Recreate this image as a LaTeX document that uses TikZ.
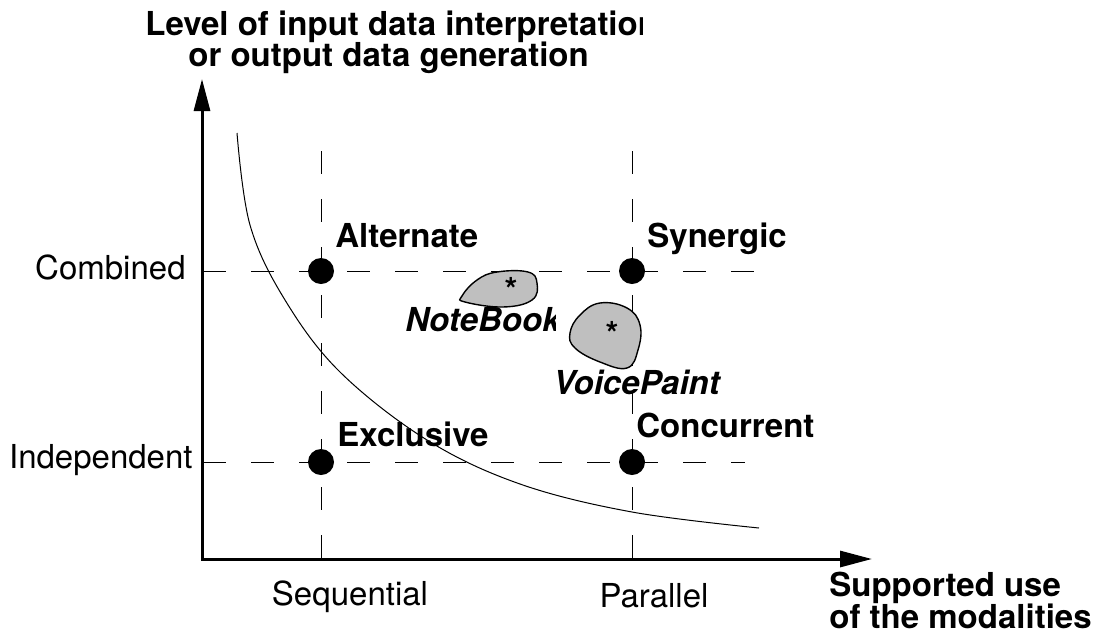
\documentclass[tikz,border=0pt]{standalone}
\usepackage{fontspec}
\setmainfont{TeX Gyre Heros}
\usetikzlibrary{arrows.meta}
\begin{document}
\begin{tikzpicture}[x=0.5pt, y=-0.5pt,
    every node/.style={inner sep=0pt, font=\fontsize{16.5}{15.5}\selectfont},
    axis/.style={line width=1.5pt, {Triangle[length=16pt,width=8pt]}-{Triangle[length=16pt,width=8pt]}},
    grid/.style={line width=0.5pt, dash pattern=on 11.5pt off 12.5pt},
    dot/.style={circle, fill=black, minimum size=13pt},
    kind/.style={font=\fontsize{16.5}{15.5}\selectfont\bfseries},
    system/.style={font=\fontsize{16.5}{15.5}\selectfont\bfseries\itshape},
    blob/.style={draw, fill=black!25, line width=0.7pt}]
    \useasboundingbox (0,0) rectangle (1098,638);

    % Axes
    \coordinate (ytip) at (202,79);
    \coordinate (xtip) at (872,559);
    \draw[axis] (ytip) |- (xtip);

    % Dashed grid
    \coordinate (seqtop) at (321,151);
    \coordinate (seqbot) at (321,558);
    \coordinate (partop) at (632,151);
    \coordinate (parbot) at (632,558);
    \coordinate (combl) at (203,271);
    \coordinate (combr) at (755,271);
    \coordinate (indl) at (203,462);
    \coordinate (indr) at (745,462);
    \draw[grid] (seqtop) -- (seqbot);
    \draw[grid] (partop) -- (parbot);
    \draw[grid] (combl) -- (combr);
    \draw[grid] (indl) -- (indr);

    % Axis labels
    \begin{scope}
        \clip (140,0) rectangle (642,45);
        \node[kind, anchor=base west] (title1) at (145,35) {Level of input data interpretation};
    \end{scope}
    \node[kind, anchor=base west] (title2) at (188,66) {or output data generation};
    \node[kind, anchor=base west] (xlbl1) at (829,596) {Supported use};
    \node[kind, anchor=base west] (xlbl2) at (829,628) {of the modalities};
    \node[anchor=base east] (comb) at (186,279) {Combined};
    \node[anchor=base east] (ind) at (193,468) {Independent};
    \node[anchor=base] (seq) at (350,605) {Sequential};
    \node[anchor=base] (par) at (654,607) {Parallel};

    % Types
    \node[dot] (alt) at (321,271) {};
    \node[dot] (syn) at (632,271) {};
    \node[dot] (exc) at (321,462) {};
    \node[dot] (con) at (632,462) {};
    \node[kind, anchor=base west] (altlbl) at (335,247) {Alternate};
    \node[kind, anchor=base west] (synlbl) at (647,247) {Synergic};
    \node[kind, anchor=base west] (exclbl) at (337,446) {Exclusive};
    \node[kind, anchor=base west] (conlbl) at (636,437) {Concurrent};

    % Boundary curve
    \draw[line width=0.5pt] plot[smooth, tension=0.6] coordinates
        {(237,133) (250,225) (285,300) (340,372) (427,440) (520,484) (632,512) (759,528)};

    % Systems
    \draw[blob] plot[smooth cycle, tension=0.7] coordinates
        {(462,296) (477,280) (497,272) (528,272) (537,283) (532,300) (503,307) (465,302)};
    \node[kind, anchor=base] (nbstar) at (511,301) {*};
    \begin{scope}
        \clip (395,300) rectangle (555,345);
        \node[system, anchor=base west] (nb) at (405,331) {NoteBook};
    \end{scope}
    \draw[blob] plot[smooth cycle, tension=0.7] coordinates
        {(570,333) (580,315) (600,303) (627,308) (640,325) (638,350) (627,368) (600,362) (575,348)};
    \node[kind, anchor=base] (vpstar) at (612,345) {*};
    \node[system, anchor=base west] (vp) at (553,394) {VoicePaint};
\end{tikzpicture}
\end{document}
